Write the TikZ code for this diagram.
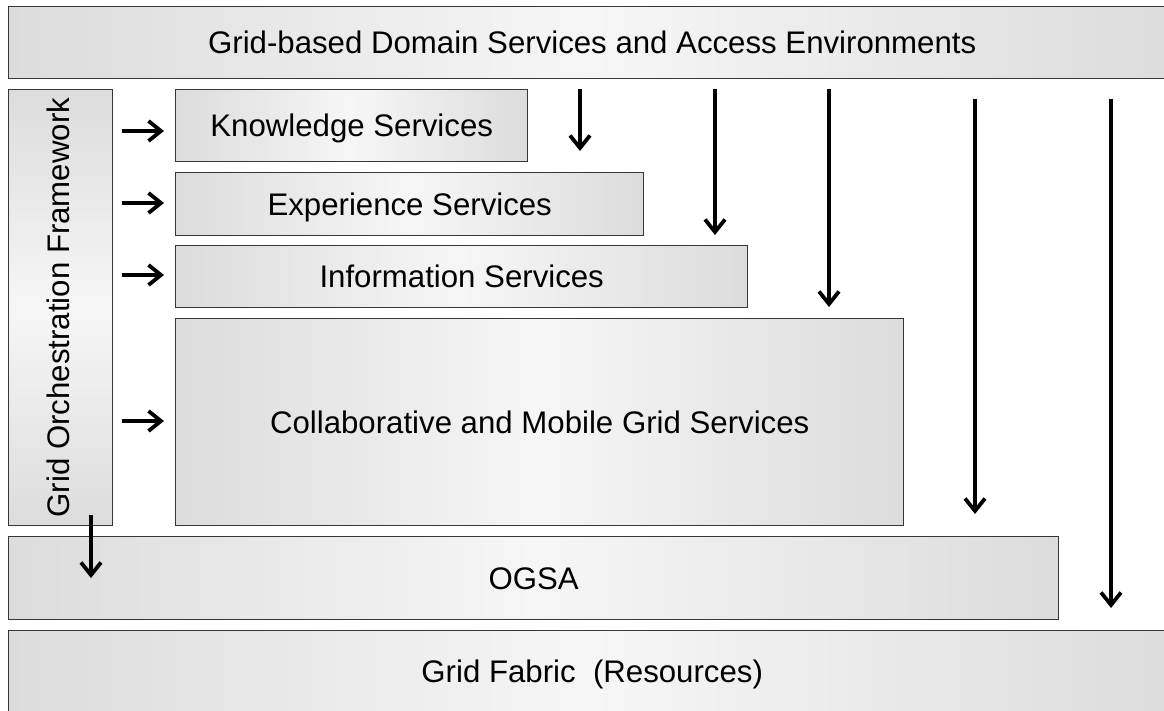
\documentclass[tikz,border=0pt]{standalone}
\usepackage{fontspec}
\setmainfont{Liberation Sans}
\usetikzlibrary{arrows.meta}
\definecolor{boxedge}{RGB}{220,220,220}
\definecolor{boxmid}{RGB}{246,246,246}
\definecolor{boxline}{RGB}{55,55,55}
\tikzset{
  layer/.style={draw=boxline, line width=1.4pt, left color=boxedge, right color=boxedge, middle color=boxmid,
    inner sep=0pt, anchor=north west, font=\fontsize{31.2}{36}\selectfont, text height=22.3pt, text depth=0pt},
  vlayer/.style={draw=boxline, line width=1.4pt, top color=boxedge, bottom color=boxedge, middle color=boxmid,
    inner sep=0pt, anchor=north west},
  arr/.style={line width=3.8pt, -{Straight Barb[length=12.5pt,width=20pt,line width=3.8pt]}}
}
\begin{document}
\begin{tikzpicture}[x=1pt,y=-1pt]
\path[use as bounding box, clip] (0,0) rectangle (1164,711);
\node[layer, minimum width=1167pt, minimum height=72pt] (dom) at (8,6) {Grid-based Domain Services and Access Environments};
\node[vlayer, minimum width=104pt, minimum height=436pt] (orch) at (8,89) {};
\node[rotate=90, inner sep=0pt, font=\fontsize{31.2}{36}\selectfont, text height=22.3pt, text depth=0pt] (orchtxt) at ([xshift=-2pt]orch.center) {Grid Orchestration Framework};
\node[layer, minimum width=352pt, minimum height=72pt] (know) at (175,89) {Knowledge Services};
\node[layer, minimum width=468pt, minimum height=63pt] (exp) at (175,172) {Experience Services};
\node[layer, minimum width=572pt, minimum height=62pt] (info) at (175,245) {Information Services};
\node[layer, minimum width=728pt, minimum height=207pt] (coll) at (175,318) {Collaborative and Mobile Grid Services};
\node[layer, minimum width=1050pt, minimum height=83pt] (ogsa) at (8,536) {OGSA};
\node[layer, minimum width=1167pt, minimum height=88pt, text depth=6pt] (fab) at (8,630) {Grid Fabric\ \ (Resources)};
% horizontal arrows
\coordinate (h1s) at (122,131); \coordinate (h1e) at (164,131);
\coordinate (h2s) at (122,203); \coordinate (h2e) at (164,203);
\coordinate (h3s) at (122,275); \coordinate (h3e) at (164,275);
\coordinate (h4s) at (122,421); \coordinate (h4e) at (164,421);
\draw[arr] (h1s) -- (h1e);
\draw[arr] (h2s) -- (h2e);
\draw[arr] (h3s) -- (h3e);
\draw[arr] (h4s) -- (h4e);
% vertical arrows
\coordinate (v1s) at (580,89);  \coordinate (v1e) at (580,151);
\coordinate (v2s) at (715,89);  \coordinate (v2e) at (715,235);
\coordinate (v3s) at (829,89);  \coordinate (v3e) at (829,307);
\coordinate (v4s) at (975,99);  \coordinate (v4e) at (975,514);
\coordinate (v5s) at (1111,99); \coordinate (v5e) at (1111,608);
\coordinate (v6s) at (91,515);  \coordinate (v6e) at (91,578);
\draw[arr] (v1s) -- (v1e);
\draw[arr] (v2s) -- (v2e);
\draw[arr] (v3s) -- (v3e);
\draw[arr] (v4s) -- (v4e);
\draw[arr] (v5s) -- (v5e);
\draw[arr] (v6s) -- (v6e);
\end{tikzpicture}
\end{document}
